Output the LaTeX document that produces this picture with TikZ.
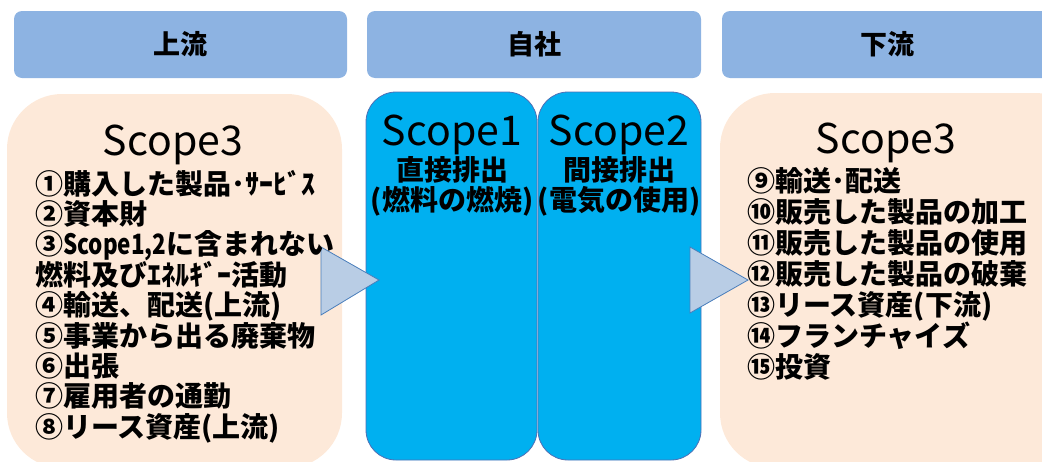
\documentclass[tikz,border=0pt]{standalone}
\usepackage{fontspec}
\setmainfont{Noto Sans CJK JP}
\newfontfamily\jpnarrow[FakeStretch=0.8]{Noto Sans CJK JP}
\definecolor{hdrblue}{HTML}{8DB3E2}
\definecolor{peach}{HTML}{FDE9D9}
\definecolor{scopeblue}{HTML}{00B0F0}
\definecolor{scopeedge}{HTML}{4F6FB5}
\definecolor{trifill}{HTML}{B9CDE5}
\definecolor{triedge}{HTML}{4A7EBB}
\begin{document}
\begin{tikzpicture}[x=1pt,y=-1pt,
  hdr/.style={fill=hdrblue, draw=none, rounded corners=8pt, minimum height=67pt,
    inner sep=0pt, font=\bfseries\fontsize{27}{28}\selectfont},
  peachbox/.style={fill=peach, draw=none, rounded corners=55pt},
  scopebox/.style={fill=scopeblue, draw=scopeedge, line width=0.8pt, rounded corners=30pt},
  tri/.style={fill=trifill, draw=triedge, line width=0.8pt, line join=miter},
  ttl/.style={inner sep=0pt, anchor=base, font=\fontsize{41}{42}\selectfont},
  sub/.style={inner sep=0pt, anchor=base, font=\bfseries\fontsize{28}{30}\selectfont},
  itemlist/.style={inner sep=0pt, anchor=base west, font=\bfseries\fontsize{28}{30.4}\selectfont}
]
\useasboundingbox (0,0) rectangle (1042,461);
% header boxes
\node[hdr, minimum width=333pt] (hup) at (180.5,44.5) {上流};
\node[hdr, minimum width=334pt] (hown) at (534,44.5) {自社};
\node[hdr, minimum width=330pt] (hdown) at (887,44.5) {下流};
% body boxes
\path[peachbox] (7,94) rectangle (342,468);
\path[peachbox] (720,93) rectangle (1090,468);
\path[scopebox] (366,92) rectangle (537,460);
\path[scopebox] (538,92) rectangle (701,460);
% arrows
\filldraw[tri] (321,247) -- (321,315) -- (379,280) -- cycle;
\filldraw[tri] (690,247) -- (690,313) -- (748,280) -- cycle;
% left text
\node[ttl] (t3l) at (173,155) {Scope3};
\node[itemlist] (listl) at (35,194) {\parbox[t]{400pt}{\lineskiplimit=-100pt
①購入した製品･ｻｰﾋﾞｽ\\
②資本財\\
③{\jpnarrow\bfseries Scope1,2}に含まれない\\
燃料及びｴﾈﾙｷﾞｰ活動\\
④輸送、配送(上流)\\
⑤事業から出る廃棄物\\
⑥出張\\
⑦雇用者の通勤\\
⑧リース資産(上流)}};
% scope 1 and 2
\node[ttl] (t1) at (452,145) {Scope1};
\node[sub] (s1a) at (452,180) {直接排出};
\node[sub] (s1b) at (452,210) {(燃料の燃焼)};
\node[ttl] (t2) at (619,145) {Scope2};
\node[sub] (s2a) at (619,180) {間接排出};
\node[sub] (s2b) at (619,210) {(電気の使用)};
% right text
\node[ttl] (t3r) at (886,153) {Scope3};
\node[itemlist] (listr) at (747,191) {\parbox[t]{400pt}{\lineskiplimit=-100pt\baselineskip=31pt
⑨輸送･配送\\
⑩販売した製品の加工\\
⑪販売した製品の使用\\
⑫販売した製品の破棄\\
⑬リース資産(下流)\\
⑭フランチャイズ\\
⑮投資}};
\end{tikzpicture}
\end{document}
